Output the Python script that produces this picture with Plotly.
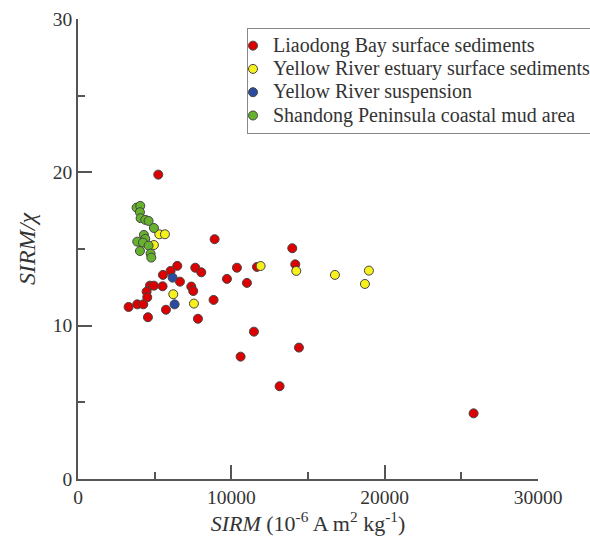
import plotly.graph_objects as go

# Liaodong Bay surface sediments
liaodong_x = [5235, 8909, 13974, 6474, 6039, 5539, 6648, 7648, 8040, 7387, 7517,
              4692, 4952, 4474, 4517, 5517, 3300, 3865, 4257, 5735, 4561, 7822,
              10365, 11670, 9713, 11017, 14170, 8843, 11474, 10604, 14409, 13148, 25800]
liaodong_y = [19.85, 15.64, 15.05, 13.9, 13.57, 13.31, 12.87, 13.78, 13.48, 12.55, 12.26,
              12.61, 12.61, 12.22, 11.85, 12.57, 11.22, 11.39, 11.39, 11.04, 10.55, 10.45,
              13.78, 13.83, 13.05, 12.79, 14.0, 11.68, 9.61, 7.98, 8.57, 6.05, 4.28]

# Yellow River estuary surface sediments
estuary_x = [5300, 5670, 4952, 6213, 7561, 11909, 14235, 16757, 18974, 18713]
estuary_y = [15.96, 15.96, 15.26, 12.05, 11.44, 13.89, 13.57, 13.31, 13.59, 12.72]

# Yellow River suspension
suspension_x = [6170, 6300]
suspension_y = [13.13, 11.39]

# Shandong Peninsula coastal mud area
shandong_x = [3822, 4062, 4040, 4083, 4387, 4604, 4952, 4300, 4387, 3865, 4235,
              4604, 4040, 4735, 4779]
shandong_y = [17.70, 17.81, 17.40, 17.01, 16.90, 16.83, 16.37, 15.92, 15.66, 15.48, 15.42,
              15.22, 14.87, 14.70, 14.44]

series_names = ["Liaodong Bay surface sediments",
                "Yellow River estuary surface sediments",
                "Yellow River suspension",
                "Shandong Peninsula coastal mud area"]
series_colors = ["#dd0000", "#f6f01c", "#2b4c9e", "#66b22c"]
series_x = [liaodong_x, estuary_x, suspension_x, shandong_x]
series_y = [liaodong_y, estuary_y, suspension_y, shandong_y]

FONT = "Liberation Serif, Times New Roman, serif"
TXT = "#333333"
AX = "#555555"

fig = go.Figure()
for name, xs, ys, col in zip(series_names, series_x, series_y, series_colors):
    fig.add_trace(go.Scatter(
        x=xs, y=ys, mode="markers",
        name='<span style="font-size:20px">' + name + '</span>',
        marker=dict(size=9, color=col, line=dict(color="#444444", width=1)),
    ))

fig.update_layout(
    width=590, height=539,
    margin=dict(l=78, r=52, t=19, b=60, autoexpand=False),
    paper_bgcolor="white", plot_bgcolor="white",
    font=dict(family=FONT, size=19, color=TXT),
    showlegend=True,
    legend=dict(
        x=(247 - 78) / 460, y=(479 - 28) / 460, xanchor="left", yanchor="top",
        bordercolor="#888888", borderwidth=1, bgcolor="white",
        font=dict(family=FONT, size=15.6, color=TXT),
        indentation=-15, tracegroupgap=0,
    ),
)

fig.update_xaxes(
    range=[0, 30000], tickvals=[0, 10000, 20000, 30000],
    ticktext=["0", "10000", "20000", "30000"],
    showline=True, linecolor=AX, linewidth=1.5,
    ticks="inside", ticklen=14, tickwidth=1.5, tickcolor=AX,
    minor=dict(dtick=5000, tick0=0, ticks="inside", ticklen=7, tickwidth=1.5, tickcolor=AX, showgrid=False),
    showgrid=False, zeroline=False, mirror=False,
    tickfont=dict(family=FONT, size=19.5, color=TXT),
    title=dict(text="<i>SIRM</i> (10<sup>-6</sup> A m<sup>2</sup> kg<sup>-1</sup>)",
               font=dict(family=FONT, size=22, color=TXT), standoff=6),
)
fig.update_yaxes(
    range=[0, 30], tickvals=[0, 10, 20, 30],
    showline=True, linecolor=AX, linewidth=1.5,
    ticks="inside", ticklen=14, tickwidth=1.5, tickcolor=AX,
    minor=dict(dtick=5, tick0=0, ticks="inside", ticklen=7, tickwidth=1.5, tickcolor=AX, showgrid=False),
    showgrid=False, zeroline=False, mirror=False,
    tickfont=dict(family=FONT, size=19.5, color=TXT),
    title=dict(text="<i>SIRM/χ</i>", font=dict(family=FONT, size=24, color=TXT), standoff=10),
)

fig.write_html("out.html")
